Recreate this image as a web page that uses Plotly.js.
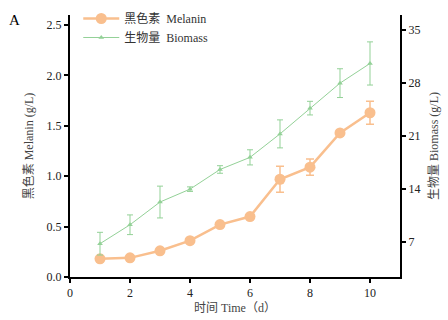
<!DOCTYPE html>
<html><head><meta charset="utf-8">
<script src="https://cdn.plot.ly/plotly-3.0.1.min.js"></script>
<style>body{margin:0;background:#fff}#c{width:448px;height:320px}</style>
</head><body><div id="c"></div>
<script>
var days = [1,2,3,4,5,6,7,8,9,10];
var melanin = [0.18,0.19,0.26,0.36,0.52,0.60,0.97,1.09,1.43,1.63];
var melaninErr = [0.02,0.02,0.02,0.02,0.02,0.02,0.13,0.08,0.03,0.115];
var biomass = [6.8,9.3,12.3,14.0,16.6,18.2,21.3,24.7,28.0,30.6];
var biomassErr = [1.5,1.3,2.1,0.3,0.5,1.0,1.85,0.9,1.9,2.85];
var xTicks = [0,2,4,6,8,10];
var leftTicks = [0,0.5,1,1.5,2,2.5];
var leftTickText = ['0.0','0.5','1.0','1.5','2.0','2.5'];
var rightTicks = [7,14,21,28,35];

var serif = 'Liberation Serif, Noto Sans CJK SC, serif';
var orange = '#F9BF8E', green = '#93D197';

var traces = [
  {x: days, y: melanin, name: '黑色素  Melanin', type: 'scatter', mode: 'lines+markers',
   line: {color: orange, width: 2.5}, marker: {color: orange, size: 11, symbol: 'circle'},
   error_y: {type: 'data', array: melaninErr, visible: true, color: orange, thickness: 1.5, width: 4},
   yaxis: 'y'},
  {x: days, y: biomass, name: '生物量  Biomass', type: 'scatter', mode: 'lines+markers',
   line: {color: green, width: 1}, marker: {color: green, size: 5, symbol: 'triangle-up'},
   error_y: {type: 'data', array: biomassErr, visible: true, color: green, thickness: 1, width: 3},
   yaxis: 'y2'}
];

var axFont = {family: serif, size: 12, color: '#222'};
var titleFont = {family: serif, size: 12, color: '#444'};
var layout = {
  width: 448, height: 320,
  margin: {l: 70, r: 48, t: 15, b: 43, autoexpand: false},
  paper_bgcolor: '#fff', plot_bgcolor: '#fff',
  showlegend: true,
  legend: {x: 0.025, y: 1.042, xanchor: 'left', yanchor: 'top', bgcolor: 'rgba(0,0,0,0)',
           font: {family: serif, size: 12, color: '#333'}, tracegroupgap: 0, itemwidth: 36},
  xaxis: {range: [0, 11], tickvals: xTicks, showgrid: false, zeroline: false,
          showline: true, linecolor: '#000', linewidth: 2, ticks: 'outside', ticklen: 4,
          tickwidth: 2, tickcolor: '#000', tickfont: axFont,
          title: {text: '时间 Time（d）', font: titleFont, standoff: 4}},
  yaxis: {range: [0, 2.6], tickvals: leftTicks, ticktext: leftTickText, showgrid: false, zeroline: false,
          showline: true, linecolor: '#000', linewidth: 2, ticks: 'outside', ticklen: 4,
          tickwidth: 2, tickcolor: '#000', tickfont: axFont,
          title: {text: '黑色素 Melanin (g/L)', font: titleFont, standoff: 10}},
  yaxis2: {range: [2.4, 37], tickvals: rightTicks, overlaying: 'y', side: 'right', showgrid: false, zeroline: false,
          showline: true, linecolor: '#000', linewidth: 2, ticks: 'outside', ticklen: 4,
          tickwidth: 2, tickcolor: '#000', tickfont: axFont,
          title: {text: '生物量 Biomass (g/L)', font: titleFont, standoff: 10}},
  annotations: [{text: 'A', xref: 'paper', yref: 'paper', x: -0.167, y: 0.98, xanchor: 'center', yanchor: 'middle',
                 showarrow: false, font: {family: serif, size: 15, color: '#000'}}]
};
Plotly.newPlot('c', traces, layout, {displayModeBar: false, staticPlot: true});
</script></body></html>
